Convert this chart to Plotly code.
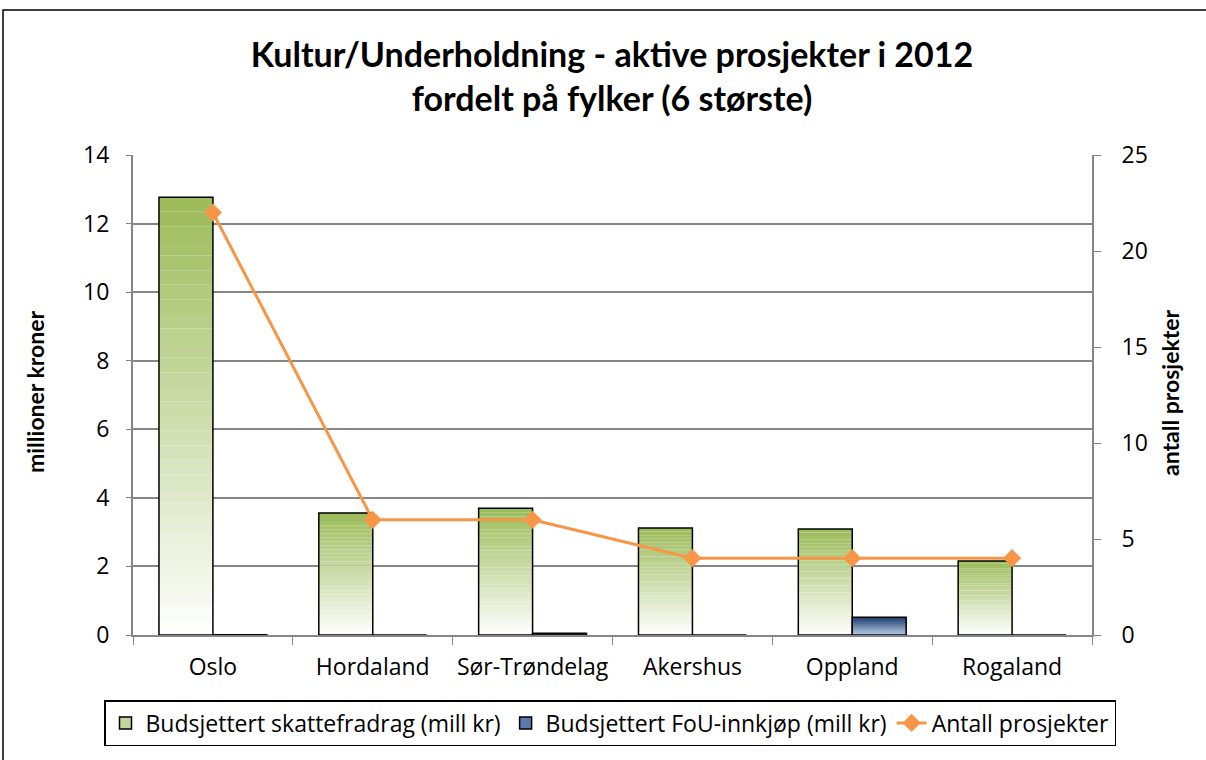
import plotly.graph_objects as go

categories = ["Oslo", "Hordaland", "Sør-Trøndelag", "Akershus", "Oppland", "Rogaland"]
skattefradrag = [12.77, 3.56, 3.70, 3.12, 3.09, 2.16]
fou = [0.01, 0.0, 0.05, 0.0, 0.52, 0.0]
antall = [22, 6, 6, 4, 4, 4]

left_ticks = [0, 2, 4, 6, 8, 10, 12, 14]
right_ticks = [0, 5, 10, 15, 20, 25]

FONT = "Open Sans, sans-serif"
TFONT = "Lato, Open Sans, sans-serif"
K = 30

PL, PR, PT, PB = 133, 1092, 155, 635
PW, PH = PR - PL, PB - PT


def px_x(x):
    return (x - PL) / PW


def px_y(y):
    return (PB - y) / PH


def lerp(c1, c2, t):
    return "rgb(%d,%d,%d)" % tuple(round(a + (b - a) * t) for a, b in zip(c1, c2))


def gradient_traces(values, group, bottom, top):
    traces = []
    for i in range(K):
        t = (i + 0.5) / K
        traces.append(go.Bar(
            x=categories, y=[v / K for v in values], base=[v * i / K for v in values],
            offsetgroup=group, marker=dict(color=lerp(bottom, top, t), line=dict(width=0)),
            showlegend=False, hoverinfo="skip"))
    return traces


fig = go.Figure()
for tr in gradient_traces(skattefradrag, "g", (255, 255, 255), (155, 187, 89)):
    fig.add_trace(tr)
for tr in gradient_traces(fou, "b", (190, 210, 236), (31, 61, 110)):
    fig.add_trace(tr)

# outlines
fig.add_trace(go.Bar(x=categories, y=skattefradrag, offsetgroup="g",
                     marker=dict(color="rgba(0,0,0,0)", line=dict(color="black", width=1.5)),
                     showlegend=False, name="Budsjettert skattefradrag (mill kr)"))
fig.add_trace(go.Bar(x=categories, y=fou, offsetgroup="b",
                     marker=dict(color="rgba(0,0,0,0)", line=dict(color="black", width=1.5)),
                     showlegend=False, name="Budsjettert FoU-innkjøp (mill kr)"))

# legend entries
fig.add_trace(go.Bar(x=categories, y=[None] * len(categories), offsetgroup="g",
                     name="Budsjettert skattefradrag (mill kr)", legendrank=1,
                     marker=dict(color="#c3d69b", line=dict(color="black", width=1.5))))
fig.add_trace(go.Bar(x=categories, y=[None] * len(categories), offsetgroup="b",
                     name="Budsjettert FoU-innkjøp (mill kr)", legendrank=2,
                     marker=dict(color="#5b7bb0", line=dict(color="black", width=1.5))))

fig.add_trace(go.Scatter(x=categories, y=antall, yaxis="y2", mode="lines+markers",
                         name="Antall prosjekter", legendrank=3,
                         line=dict(color="#f79646", width=3),
                         marker=dict(symbol="diamond", size=14, color="#f79646")))

fig.update_layout(
    width=1206, height=760,
    margin=dict(l=PL, r=1206 - PR, t=PT, b=760 - PB, autoexpand=False),
    paper_bgcolor="white", plot_bgcolor="white",
    font=dict(family=FONT, size=23, color="black"),
    barmode="group", bargap=0.325, bargroupgap=0,
    title=dict(text="<b>Kultur/Underholdning - aktive prosjekter i 2012<br>fordelt på fylker (6 største)</b>",
               x=0.5075, xanchor="center", y=0.912, yanchor="top",
               font=dict(family=TFONT, size=34, color="black")),
    xaxis=dict(showgrid=False, showline=True, linecolor="#868686", linewidth=2,
               ticks="outside", tickson="boundaries", ticklen=8, tickcolor="#868686",
               tickfont=dict(size=23), tickangle=0, ticklabelstandoff=10, automargin=False),
    yaxis=dict(range=[0, 14], tickvals=left_ticks, showgrid=True, gridcolor="#868686", gridwidth=1.5,
               showline=True, linecolor="#868686", linewidth=2, ticks="outside", ticklen=5,
               tickcolor="#868686", zeroline=False, tickfont=dict(size=23), ticklabelstandoff=12,
               automargin=False),
    yaxis2=dict(range=[0, 25], tickvals=right_ticks, overlaying="y", side="right", showgrid=False,
                showline=True, linecolor="#868686", linewidth=2, ticks="outside", ticklen=7,
                tickcolor="#868686", zeroline=False, tickfont=dict(size=23), ticklabelstandoff=16,
                automargin=False),
    legend=dict(orientation="h", x=px_x(104), xanchor="left",
                y=px_y(700), yanchor="top",
                bordercolor="black", borderwidth=1.5, font=dict(size=23),
                itemwidth=30, tracegroupgap=0),
    annotations=[
        dict(text="<b>millioner kroner</b>", xref="paper", yref="paper", x=px_x(35),
             y=px_y(392), textangle=-90, showarrow=False, xanchor="center", yanchor="middle",
             font=dict(family=TFONT, size=23)),
        dict(text="<b>antall prosjekter</b>", xref="paper", yref="paper", x=px_x(1170),
             y=px_y(393), textangle=-90, showarrow=False, xanchor="center", yanchor="middle",
             font=dict(family=TFONT, size=23)),
    ],
    shapes=[dict(type="rect", xref="paper", yref="paper", x0=px_x(3), x1=px_x(1212),
                 y0=px_y(770), y1=px_y(10),
                 line=dict(color="black", width=1.5), fillcolor="rgba(0,0,0,0)")],
)

fig.write_html("out.html", config={"displayModeBar": False},
               post_script="document.body.style.margin='0px';")
